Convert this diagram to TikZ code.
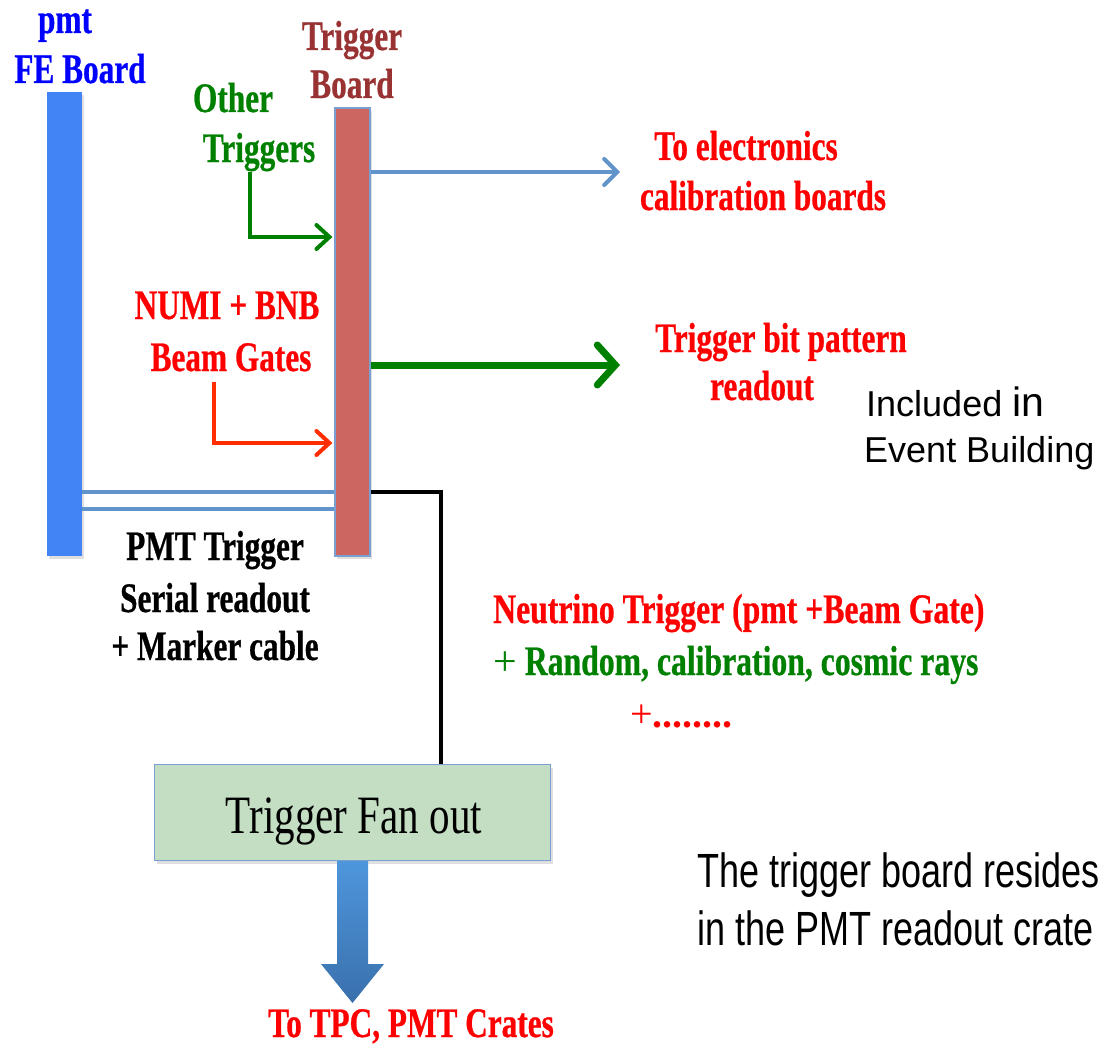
\documentclass[tikz,border=0pt]{standalone}
\usepackage{fontspec}
\usetikzlibrary{arrows.meta,shadows}
% Condensed bold serif for the labels, condensed serif for the box, sans for the notes
\newfontfamily\labelfont[FakeStretch=0.745,FakeBold=0.6]{Liberation Serif}
\newfontfamily\widelabelfont[FakeStretch=0.755,FakeBold=0.6]{Liberation Serif}
\newfontfamily\plainserif{Liberation Serif}
\newfontfamily\boxfont[FakeStretch=0.76]{Liberation Serif}
\newfontfamily\notefont{Liberation Sans}
\newfontfamily\narrowfont[FakeStretch=0.75]{Liberation Sans}

\definecolor{feblue}{RGB}{66,132,246}
\definecolor{tbred}{RGB}{204,102,96}
\definecolor{edgeblue}{RGB}{120,160,210}
\definecolor{cableblue}{RGB}{98,148,204}
\definecolor{boardbrown}{RGB}{153,51,51}
\definecolor{trgreen}{RGB}{0,128,0}
\definecolor{beamred}{RGB}{255,45,0}
\definecolor{fanfill}{RGB}{196,222,196}
\definecolor{bigtop}{RGB}{78,150,220}
\definecolor{bigbot}{RGB}{58,112,172}

\tikzset{
  lbl/.style={anchor=base,inner sep=0pt,font=\labelfont\bfseries\fontsize{42}{50}\selectfont},
  note/.style={anchor=base west,inner sep=0pt},
  bar/.style={minimum width=35pt,inner sep=0pt,
    drop shadow={shadow xshift=2pt,shadow yshift=-3pt,opacity=0.25}},
  cable/.style={cableblue,line width=3.5pt},
  bluearrow/.style={cableblue,line width=4pt,
    -{Straight Barb[length=13pt,width=26pt,line width=4pt,line cap=round]}},
  greenthin/.style={trgreen,line width=4pt,
    -{Straight Barb[length=13pt,width=24pt,line width=4pt,line cap=round]}},
  redthin/.style={beamred,line width=4pt,
    -{Straight Barb[length=13pt,width=24pt,line width=4pt,line cap=round]}},
  greenthick/.style={trgreen,line width=7pt,
    -{Straight Barb[length=18pt,width=40pt,line width=7pt,line cap=round]}},
}

\begin{document}
\begin{tikzpicture}[x=1pt,y=-1pt]
\useasboundingbox (0,0) rectangle (1119,1046);

% boards
\node[bar,fill=feblue,minimum height=464pt] (fe) at (64.5,324) {};
\node[bar,fill=tbred,draw=edgeblue,line width=1.2pt,minimum height=448pt] (tb) at (352.5,332) {};

% board titles
\node[lbl,text=blue] (fe1) at (65,33) {pmt};
\node[lbl,text=blue] (fe2) at (80,83) {FE Board};
\node[lbl,text=boardbrown] (tb1) at (352,50) {Trigger};
\node[lbl,text=boardbrown] (tb2) at (352,98) {Board};

% inputs to the trigger board
\node[lbl,text=trgreen] (ot1) at (233,112) {Other};
\node[lbl,text=trgreen] (ot2) at (259,162) {Triggers};
\node[lbl,text=red] (bg1) at (227,319) {NUMI + BNB};
\node[lbl,text=red] (bg2) at (231,371) {Beam Gates};

\coordinate (gin) at (250,237);
\coordinate (rin) at (214,443);
\draw[greenthin] (gin |- 0,172) -- (gin) -- ([xshift=-2pt]gin -| tb.west);
\draw[redthin] (rin |- 0,382) -- (rin) -- ([xshift=-2pt]rin -| tb.west);

% outputs of the trigger board
\node[lbl,text=red] (cal1) at (746,160) {To electronics};
\node[lbl,text=red] (cal2) at (763,210) {calibration boards};
\node[lbl,text=red] (bit1) at (781,352) {Trigger bit pattern};
\node[lbl,text=red] (bit2) at (762,400) {readout};

\coordinate (cout) at (620,172);
\coordinate (bout) at (620,365);
\draw[bluearrow] (cout -| tb.east) -- (cout);
\draw[greenthick] (bout -| tb.east) -- (bout);

\node[note,font=\notefont\fontsize{36}{40}\selectfont] (inc1) at (866,416)
  {Included {\fontsize{41}{40}\selectfont in}};
\node[note,font=\notefont\fontsize{36}{40}\selectfont] (inc2) at (864,462) {Event Building};

% serial readout + marker cable between the boards
\coordinate (c1) at (0,492);
\coordinate (c2) at (0,509);
\draw[cable] (fe.east |- c1) -- (tb.west |- c1);
\draw[cable] (fe.east |- c2) -- (tb.west |- c2);

\node[lbl] (pm1) at (215,560) {PMT Trigger};
\node[lbl] (pm2) at (215,612) {Serial readout};
\node[lbl] (pm3) at (215,660) {+ Marker cable};

% trigger types
\node[note,font=\widelabelfont\bfseries\fontsize{42}{50}\selectfont,text=red] (nt1) at (493,623)
  {Neutrino Trigger (pmt +Beam Gate)};
\node[note,font=\widelabelfont\bfseries\fontsize{42}{50}\selectfont,text=trgreen] (nt2) at (493,675)
  {{\plainserif\mdseries +} Random, calibration, cosmic rays};
\node[note,font=\plainserif\bfseries\fontsize{40}{50}\selectfont,text=red] (nt3) at (630,727)
  {{\mdseries +}........};

% trigger fan out
\node[draw=edgeblue,line width=1.2pt,fill=fanfill,minimum width=396pt,minimum height=96pt,
      inner sep=0pt,drop shadow={shadow xshift=2pt,shadow yshift=-3pt,opacity=0.25}]
      (fo) at (352.5,812.5) {};
\node[anchor=base,inner sep=0pt,font=\boxfont\fontsize{54}{60}\selectfont] (fot) at (354,833)
  {Trigger Fan out};

\coordinate (k) at (441,492);
\draw[black,line width=3.5pt] (tb.east |- k) -- (k) -- (fo.north -| k);

% distribution to the crates
\node[lbl,text=red] (crt) at (411,1037) {To TPC, PMT Crates};
\shade[top color=bigtop,bottom color=bigbot,draw=none]
  (fo.south -| 337,0) -- (fo.south -| 368,0) -- (368,964) -- (384,964)
  -- (352.5,1003) -- (321,964) -- (337,964) -- cycle;

% location note
\node[note,font=\narrowfont\fontsize{48}{58}\selectfont] (loc1) at (697,887) {The trigger board resides};
\node[note,font=\narrowfont\fontsize{48}{58}\selectfont] (loc2) at (697,945) {in the PMT readout crate};
\end{tikzpicture}
\end{document}
